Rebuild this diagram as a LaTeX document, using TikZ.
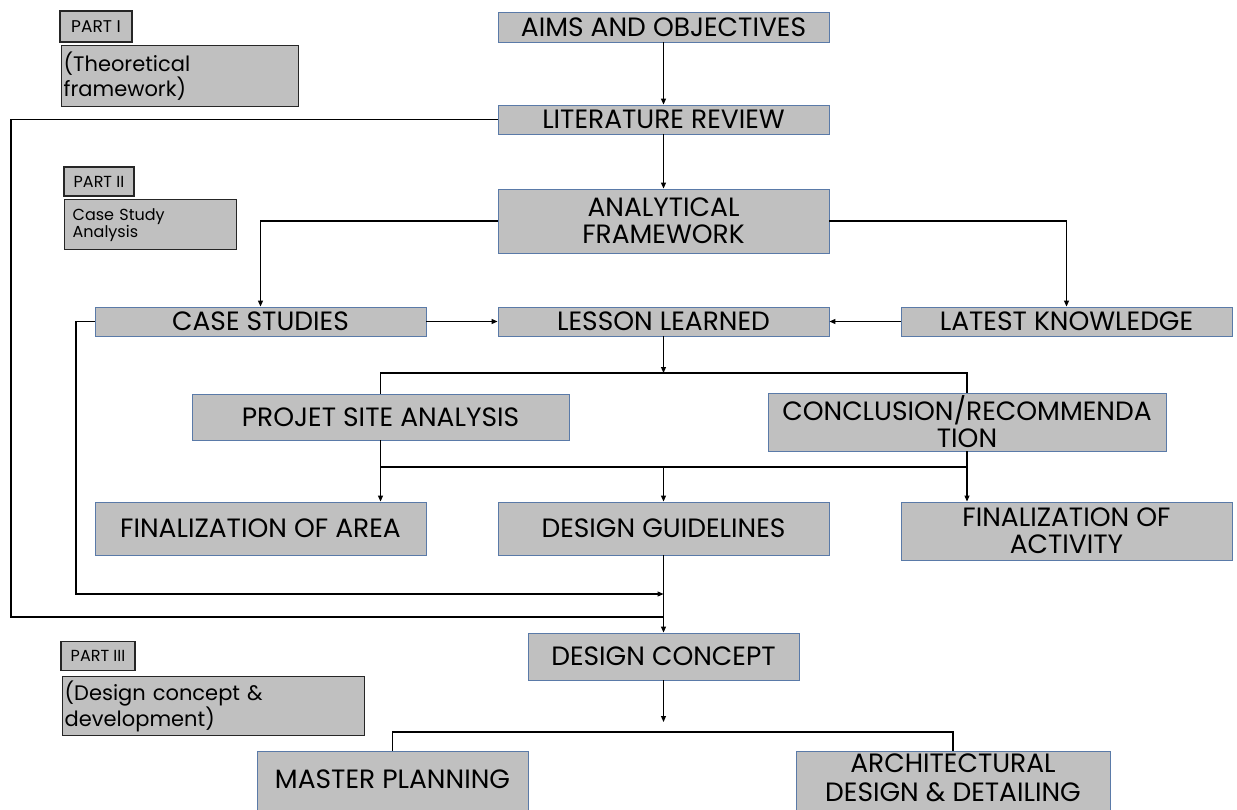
\documentclass[tikz,border=0pt]{standalone}
\usepackage{fontspec}
\setmainfont{Poppins}
\usetikzlibrary{arrows.meta}
\definecolor{boxfill}{HTML}{C0C0C0}
\definecolor{boxline}{HTML}{5A7AA8}
\tikzset{
  box/.style={draw=boxline, line width=0.9pt, fill=boxfill, inner sep=0pt, align=center,
    font=\fontsize{26.5}{27}\selectfont, text=black},
  partbox/.style={draw=black!85, line width=1.4pt, fill=boxfill, inner sep=0pt, text=black},
  desc/.style={partbox, align=left, anchor=north west},
  conn/.style={line width=1.1pt, draw=black},
  arr/.style={conn, -{Triangle[length=6pt,width=5pt]}},
}
\begin{document}
\begin{tikzpicture}[x=1pt,y=-1pt]
\clip (0,0) rectangle (1237,810);
\fill[white] (0,0) rectangle (1237,810);

% part labels
\node[partbox, minimum width=72pt, minimum height=31pt, font=\fontsize{17}{18}\selectfont] (p1) at (96,26.5) {PART I};
\node[desc, minimum height=61pt, inner xsep=2pt, text width=233pt, font=\fontsize{21}{21}\selectfont] (p1d) at (61,45) {(Theoretical\\framework)};
\node[partbox, minimum width=70pt, minimum height=29pt, font=\fontsize{16}{18}\selectfont] (p2) at (99,181.5) {PART II};
\node[desc, minimum height=50pt, inner xsep=8pt, text width=156pt, font=\fontsize{16}{17}\selectfont] (p2d) at (64,199) {Case Study\\Analysis};
\node[partbox, minimum width=74pt, minimum height=29pt, font=\fontsize{16}{17}\selectfont] (p3) at (98,656) {PART III};
\node[desc, minimum height=59pt, inner xsep=2pt, text width=298pt, font=\fontsize{21}{23}\selectfont] (p3d) at (62,676) {(Design concept \&\\development)};

% main boxes
\node[box, minimum width=331pt, minimum height=30pt] (aims) at (663.5,27) {AIMS AND OBJECTIVES};
\node[box, minimum width=331pt, minimum height=29pt] (lit) at (663.5,119.5) {LITERATURE REVIEW};
\node[box, minimum width=331pt, minimum height=64pt] (anal) at (663.5,221) {ANALYTICAL\\FRAMEWORK};
\node[box, minimum width=331pt, minimum height=29pt] (case) at (260.5,321.5) {CASE STUDIES};
\node[box, minimum width=331pt, minimum height=29pt] (lesson) at (663.5,321.5) {LESSON LEARNED};
\node[box, minimum width=331pt, minimum height=29pt] (latest) at (1066.5,321.5) {LATEST KNOWLEDGE};
\node[box, minimum width=377pt, minimum height=46pt] (projet) at (380.5,417) {PROJET SITE ANALYSIS};
\node[box, minimum width=398pt, minimum height=58pt] (concl) at (967,422) {CONCLUSION/RECOMMENDA\\TION};
\node[box, minimum width=331pt, minimum height=53pt] (finarea) at (260.5,528.5) {FINALIZATION OF AREA};
\node[box, minimum width=331pt, minimum height=53pt] (guide) at (663.5,528.5) {DESIGN GUIDELINES};
\node[box, minimum width=331pt, minimum height=58pt] (finact) at (1066.5,531) {FINALIZATION OF\\ACTIVITY};
\node[box, minimum width=271pt, minimum height=47pt] (concept) at (663.5,656.5) {DESIGN CONCEPT};
\node[box, minimum width=271pt, minimum height=60pt] (master) at (392.5,781) {\raisebox{2pt}[\height][\depth]{MASTER PLANNING}};
\node[box, minimum width=314pt, minimum height=60pt] (arch) at (953,781) {\raisebox{-1pt}[\height][\depth]{\begin{tabular}{@{}c@{}}ARCHITECTURAL\\[2pt]DESIGN \& DETAILING\end{tabular}}};

% junction coordinates
\coordinate (j1) at (663.5,373);
\coordinate (j2) at (663.5,467);
\coordinate (c1) at (76,594);
\coordinate (c2) at (11,617);
\coordinate (j3) at (663.5,722);
\coordinate (j4) at (663.5,732);

% connectors
\draw[arr] (aims) -- (lit);
\draw[arr] (lit) -- (anal);
\draw[arr] (anal.west) -| (case.north);
\draw[arr] (anal.east) -| (latest.north);
\draw[arr] (case.east) -- (lesson.west);
\draw[arr] (latest.west) -- (lesson.east);
\draw[arr] (lesson.south) -- (j1);
\draw[conn] (projet.north) -- (projet.north |- j1) -- (concl.north |- j1) -- (concl.north);
\draw[conn] (projet.south) -- (projet.south |- j2) -- (concl.south |- j2) -- (concl.south);
\draw[arr] (projet.south |- j2) -- (projet.south |- finarea.north);
\draw[arr] (j2) -- (guide.north);
\draw[arr] (concl.south |- j2) -- (concl.south |- finact.north);
\draw[arr] (guide.south) -- (concept.north);
\draw[arr] (case.west) -| (c1) -- (guide.south |- c1);
\draw[conn] (lit.west) -| (c2) -- (guide.south |- c2);
\draw[arr] (concept.south) -- (j3);
\draw[conn] (master.north) -- (master.north |- j4) -- (arch.north |- j4) -- (arch.north);
\end{tikzpicture}
\end{document}
